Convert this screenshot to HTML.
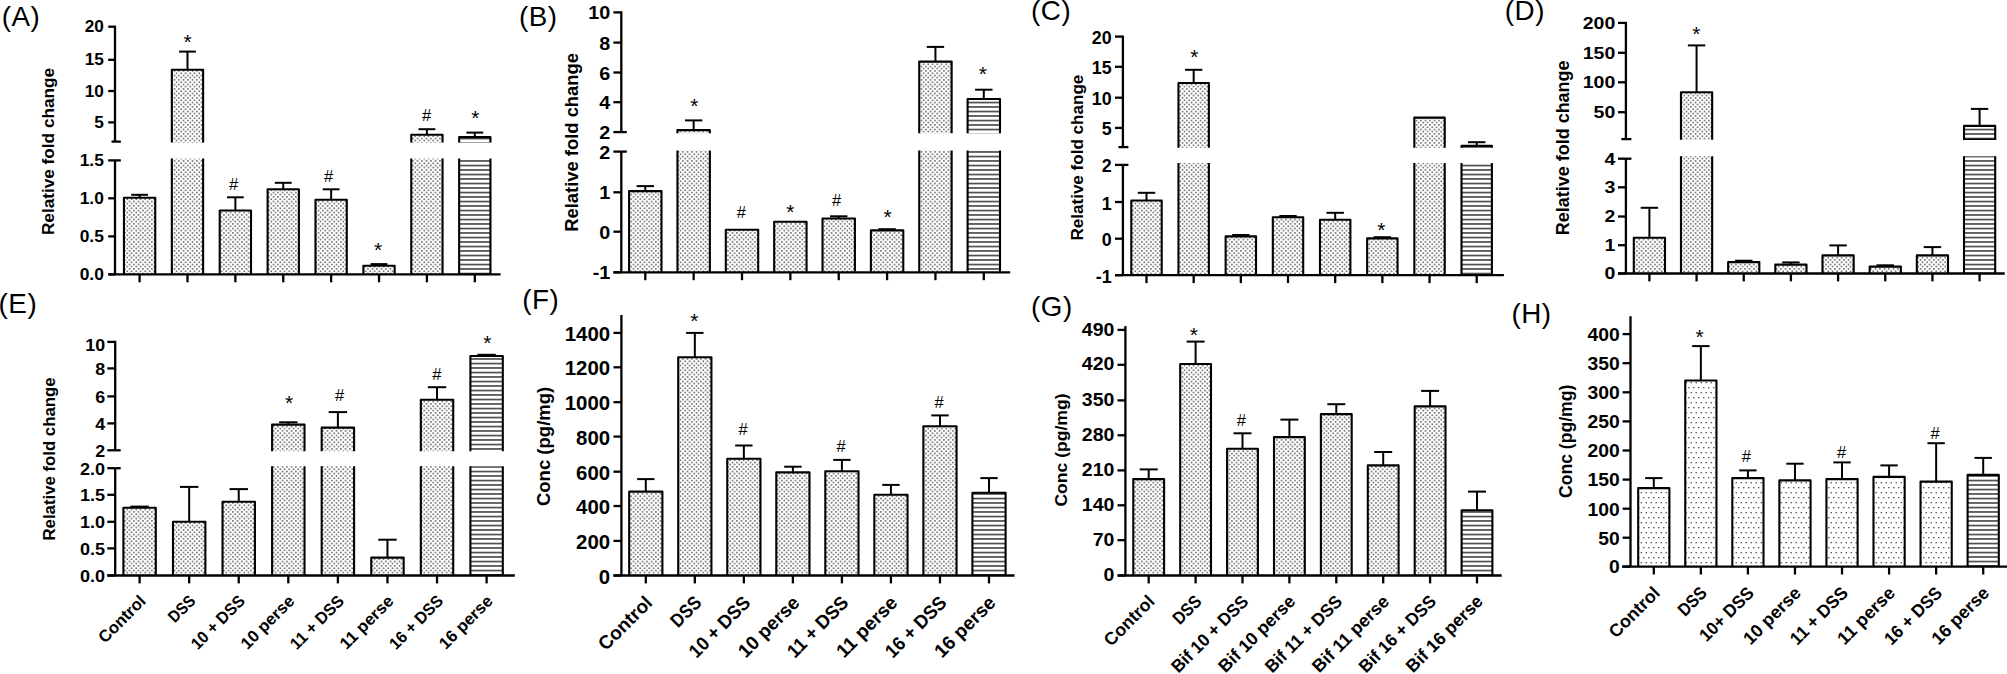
<!DOCTYPE html>
<html lang="en">
<head>
<meta charset="utf-8">
<title>Figure</title>
<style>
html,body{margin:0;padding:0;background:#fff;}
body{width:2007px;height:674px;overflow:hidden;}
svg{display:block;font-family:'Liberation Sans', sans-serif;}
text{fill:#000;}
</style>
</head>
<body>
<svg width="2007" height="674" viewBox="0 0 2007 674">
<defs>
<pattern id="dots" width="4.5" height="4.5" patternUnits="userSpaceOnUse">
<rect width="4.5" height="4.5" fill="#fff"/>
<rect x="0.5" y="0.5" width="1.4" height="1.4" fill="#3e3e3e"/>
<rect x="2.75" y="2.75" width="1.4" height="1.4" fill="#3e3e3e"/>
</pattern>
<pattern id="sparse" width="5" height="10" patternUnits="userSpaceOnUse">
<rect width="5" height="10" fill="#fff"/>
<rect x="0.6" y="2" width="1.3" height="1.3" fill="#4a4a4a"/>
<rect x="3.1" y="7" width="1.3" height="1.3" fill="#4a4a4a"/>
</pattern>
<pattern id="hlines" width="10" height="4.5" patternUnits="userSpaceOnUse">
<rect width="10" height="4.5" fill="#fff"/>
<rect x="0" y="2.8" width="10" height="1.4" fill="#2a2a2a"/>
</pattern>
</defs>
<g>
<line x1="139.6" y1="197.8" x2="139.6" y2="194.8" stroke="#000" stroke-width="2" stroke-linecap="butt"/>
<line x1="131.2" y1="194.8" x2="148" y2="194.8" stroke="#000" stroke-width="2" stroke-linecap="butt"/>
<rect x="123.95" y="197.8" width="31.3" height="76.6" fill="url(#dots)"/>
<path d="M123.95 274.4V197.8H155.25V274.4" fill="none" stroke="#000" stroke-width="2.1" stroke-linejoin="round"/>
<line x1="187.49" y1="69.8" x2="187.49" y2="51.6" stroke="#000" stroke-width="2" stroke-linecap="butt"/>
<line x1="179.09" y1="51.6" x2="195.89" y2="51.6" stroke="#000" stroke-width="2" stroke-linecap="butt"/>
<rect x="171.84" y="158.6" width="31.3" height="115.8" fill="url(#dots)"/>
<path d="M171.84 274.4V158.6M203.14 158.6V274.4" fill="none" stroke="#000" stroke-width="2.1"/>
<rect x="171.84" y="69.8" width="31.3" height="72.8" fill="url(#dots)"/>
<path d="M171.84 142.6V69.8H203.14V142.6" fill="none" stroke="#000" stroke-width="2.1" stroke-linejoin="round"/>
<line x1="235.37" y1="210.5" x2="235.37" y2="197.3" stroke="#000" stroke-width="2" stroke-linecap="butt"/>
<line x1="226.97" y1="197.3" x2="243.77" y2="197.3" stroke="#000" stroke-width="2" stroke-linecap="butt"/>
<rect x="219.72" y="210.5" width="31.3" height="63.9" fill="url(#dots)"/>
<path d="M219.72 274.4V210.5H251.02V274.4" fill="none" stroke="#000" stroke-width="2.1" stroke-linejoin="round"/>
<line x1="283.26" y1="189.3" x2="283.26" y2="182.8" stroke="#000" stroke-width="2" stroke-linecap="butt"/>
<line x1="274.86" y1="182.8" x2="291.66" y2="182.8" stroke="#000" stroke-width="2" stroke-linecap="butt"/>
<rect x="267.61" y="189.3" width="31.3" height="85.1" fill="url(#dots)"/>
<path d="M267.61 274.4V189.3H298.91V274.4" fill="none" stroke="#000" stroke-width="2.1" stroke-linejoin="round"/>
<line x1="331.14" y1="199.8" x2="331.14" y2="189.3" stroke="#000" stroke-width="2" stroke-linecap="butt"/>
<line x1="322.74" y1="189.3" x2="339.54" y2="189.3" stroke="#000" stroke-width="2" stroke-linecap="butt"/>
<rect x="315.49" y="199.8" width="31.3" height="74.6" fill="url(#dots)"/>
<path d="M315.49 274.4V199.8H346.79V274.4" fill="none" stroke="#000" stroke-width="2.1" stroke-linejoin="round"/>
<line x1="379.03" y1="265.8" x2="379.03" y2="264.1" stroke="#000" stroke-width="2" stroke-linecap="butt"/>
<line x1="370.63" y1="264.1" x2="387.43" y2="264.1" stroke="#000" stroke-width="2" stroke-linecap="butt"/>
<rect x="363.38" y="265.8" width="31.3" height="8.6" fill="url(#dots)"/>
<path d="M363.38 274.4V265.8H394.68V274.4" fill="none" stroke="#000" stroke-width="2.1" stroke-linejoin="round"/>
<line x1="426.91" y1="134.8" x2="426.91" y2="129.2" stroke="#000" stroke-width="2" stroke-linecap="butt"/>
<line x1="418.51" y1="129.2" x2="435.31" y2="129.2" stroke="#000" stroke-width="2" stroke-linecap="butt"/>
<rect x="411.26" y="158.6" width="31.3" height="115.8" fill="url(#dots)"/>
<path d="M411.26 274.4V158.6M442.56 158.6V274.4" fill="none" stroke="#000" stroke-width="2.1"/>
<rect x="411.26" y="134.8" width="31.3" height="7.8" fill="url(#dots)"/>
<path d="M411.26 142.6V134.8H442.56V142.6" fill="none" stroke="#000" stroke-width="2.1" stroke-linejoin="round"/>
<line x1="474.8" y1="137.1" x2="474.8" y2="132.6" stroke="#000" stroke-width="2" stroke-linecap="butt"/>
<line x1="466.4" y1="132.6" x2="483.2" y2="132.6" stroke="#000" stroke-width="2" stroke-linecap="butt"/>
<rect x="459.15" y="158.6" width="31.3" height="115.8" fill="url(#hlines)"/>
<path d="M459.15 274.4V158.6M490.45 158.6V274.4" fill="none" stroke="#000" stroke-width="2.1"/>
<rect x="459.15" y="137.1" width="31.3" height="5.5" fill="url(#hlines)"/>
<path d="M459.15 142.6V137.1H490.45V142.6" fill="none" stroke="#000" stroke-width="2.1" stroke-linejoin="round"/>
<line x1="115" y1="25.7" x2="115" y2="141.6" stroke="#000" stroke-width="2.3" stroke-linecap="butt"/>
<line x1="115" y1="160.4" x2="115" y2="274.4" stroke="#000" stroke-width="2.3" stroke-linecap="butt"/>
<line x1="108.2" y1="26.7" x2="115" y2="26.7" stroke="#000" stroke-width="2.3" stroke-linecap="butt"/>
<text x="103.9" y="32.2" font-size="17.28" font-weight="bold" text-anchor="end" textLength="19.16" lengthAdjust="spacingAndGlyphs">20</text>
<line x1="108.2" y1="59.8" x2="115" y2="59.8" stroke="#000" stroke-width="2.3" stroke-linecap="butt"/>
<text x="103.9" y="65.3" font-size="17.28" font-weight="bold" text-anchor="end" textLength="19.16" lengthAdjust="spacingAndGlyphs">15</text>
<line x1="108.2" y1="91" x2="115" y2="91" stroke="#000" stroke-width="2.3" stroke-linecap="butt"/>
<text x="103.9" y="96.5" font-size="17.28" font-weight="bold" text-anchor="end" textLength="19.16" lengthAdjust="spacingAndGlyphs">10</text>
<line x1="108.2" y1="122.4" x2="115" y2="122.4" stroke="#000" stroke-width="2.3" stroke-linecap="butt"/>
<text x="103.9" y="127.9" font-size="17.28" font-weight="bold" text-anchor="end" textLength="9.58" lengthAdjust="spacingAndGlyphs">5</text>
<line x1="108.2" y1="160.4" x2="115" y2="160.4" stroke="#000" stroke-width="2.3" stroke-linecap="butt"/>
<text x="103.9" y="165.9" font-size="17.28" font-weight="bold" text-anchor="end" textLength="24.21" lengthAdjust="spacingAndGlyphs">1.5</text>
<line x1="108.2" y1="198.3" x2="115" y2="198.3" stroke="#000" stroke-width="2.3" stroke-linecap="butt"/>
<text x="103.9" y="203.8" font-size="17.28" font-weight="bold" text-anchor="end" textLength="24.21" lengthAdjust="spacingAndGlyphs">1.0</text>
<line x1="108.2" y1="236.4" x2="115" y2="236.4" stroke="#000" stroke-width="2.3" stroke-linecap="butt"/>
<text x="103.9" y="241.9" font-size="17.28" font-weight="bold" text-anchor="end" textLength="24.21" lengthAdjust="spacingAndGlyphs">0.5</text>
<line x1="108.2" y1="274.4" x2="115" y2="274.4" stroke="#000" stroke-width="2.3" stroke-linecap="butt"/>
<text x="103.9" y="279.9" font-size="17.28" font-weight="bold" text-anchor="end" textLength="24.21" lengthAdjust="spacingAndGlyphs">0.0</text>
<line x1="111.5" y1="141.6" x2="120.8" y2="141.6" stroke="#000" stroke-width="2.3" stroke-linecap="butt"/>
<line x1="115" y1="160.4" x2="120.8" y2="160.4" stroke="#000" stroke-width="2.3" stroke-linecap="butt"/>
<line x1="108.5" y1="274.4" x2="500.6" y2="274.4" stroke="#000" stroke-width="2.3" stroke-linecap="butt"/>
<line x1="139.6" y1="274.4" x2="139.6" y2="282.3" stroke="#000" stroke-width="2.3" stroke-linecap="butt"/>
<line x1="187.49" y1="274.4" x2="187.49" y2="282.3" stroke="#000" stroke-width="2.3" stroke-linecap="butt"/>
<line x1="235.37" y1="274.4" x2="235.37" y2="282.3" stroke="#000" stroke-width="2.3" stroke-linecap="butt"/>
<line x1="283.26" y1="274.4" x2="283.26" y2="282.3" stroke="#000" stroke-width="2.3" stroke-linecap="butt"/>
<line x1="331.14" y1="274.4" x2="331.14" y2="282.3" stroke="#000" stroke-width="2.3" stroke-linecap="butt"/>
<line x1="379.03" y1="274.4" x2="379.03" y2="282.3" stroke="#000" stroke-width="2.3" stroke-linecap="butt"/>
<line x1="426.91" y1="274.4" x2="426.91" y2="282.3" stroke="#000" stroke-width="2.3" stroke-linecap="butt"/>
<line x1="474.8" y1="274.4" x2="474.8" y2="282.3" stroke="#000" stroke-width="2.3" stroke-linecap="butt"/>
<text x="54.3" y="151.5" font-size="17.3" font-weight="bold" text-anchor="middle" transform="rotate(-90 54.3 151.5)" textLength="167.2" lengthAdjust="spacingAndGlyphs">Relative fold change</text>
<text x="1.7" y="26.2" font-size="27.8" font-weight="normal" text-anchor="start" letter-spacing="0.5">(A)</text>
<text x="187.7" y="49.4" font-size="21" font-weight="normal" text-anchor="middle" fill="#111">*</text>
<text x="426.7" y="121.3" font-size="16.5" font-weight="normal" text-anchor="middle" fill="#222">#</text>
<text x="475.3" y="125.2" font-size="21" font-weight="normal" text-anchor="middle" fill="#111">*</text>
<text x="233.5" y="190.2" font-size="16.5" font-weight="normal" text-anchor="middle" fill="#222">#</text>
<text x="328.5" y="182.3" font-size="16.5" font-weight="normal" text-anchor="middle" fill="#222">#</text>
<text x="378.1" y="257.1" font-size="21" font-weight="normal" text-anchor="middle" fill="#111">*</text>
</g>
<g>
<line x1="645.3" y1="191.1" x2="645.3" y2="186.1" stroke="#000" stroke-width="2" stroke-linecap="butt"/>
<line x1="636.6" y1="186.1" x2="654" y2="186.1" stroke="#000" stroke-width="2" stroke-linecap="butt"/>
<rect x="629.1" y="191.1" width="32.4" height="81.2" fill="url(#dots)"/>
<path d="M629.1 272.3V191.1H661.5V272.3" fill="none" stroke="#000" stroke-width="2.1" stroke-linejoin="round"/>
<line x1="693.66" y1="130.1" x2="693.66" y2="120.4" stroke="#000" stroke-width="2" stroke-linecap="butt"/>
<line x1="684.96" y1="120.4" x2="702.36" y2="120.4" stroke="#000" stroke-width="2" stroke-linecap="butt"/>
<rect x="677.46" y="150.6" width="32.4" height="121.7" fill="url(#dots)"/>
<path d="M677.46 272.3V150.6M709.86 150.6V272.3" fill="none" stroke="#000" stroke-width="2.1"/>
<rect x="677.46" y="130.1" width="32.4" height="3.2" fill="url(#dots)"/>
<path d="M677.46 133.3V130.1H709.86V133.3" fill="none" stroke="#000" stroke-width="2.1" stroke-linejoin="round"/>
<rect x="725.81" y="229.7" width="32.4" height="42.6" fill="url(#dots)"/>
<path d="M725.81 272.3V229.7H758.21V272.3" fill="none" stroke="#000" stroke-width="2.1" stroke-linejoin="round"/>
<rect x="774.17" y="221.7" width="32.4" height="50.6" fill="url(#dots)"/>
<path d="M774.17 272.3V221.7H806.57V272.3" fill="none" stroke="#000" stroke-width="2.1" stroke-linejoin="round"/>
<line x1="838.73" y1="218.5" x2="838.73" y2="216.3" stroke="#000" stroke-width="2" stroke-linecap="butt"/>
<line x1="830.03" y1="216.3" x2="847.43" y2="216.3" stroke="#000" stroke-width="2" stroke-linecap="butt"/>
<rect x="822.53" y="218.5" width="32.4" height="53.8" fill="url(#dots)"/>
<path d="M822.53 272.3V218.5H854.93V272.3" fill="none" stroke="#000" stroke-width="2.1" stroke-linejoin="round"/>
<line x1="887.09" y1="230.4" x2="887.09" y2="229.2" stroke="#000" stroke-width="2" stroke-linecap="butt"/>
<line x1="878.39" y1="229.2" x2="895.79" y2="229.2" stroke="#000" stroke-width="2" stroke-linecap="butt"/>
<rect x="870.89" y="230.4" width="32.4" height="41.9" fill="url(#dots)"/>
<path d="M870.89 272.3V230.4H903.29V272.3" fill="none" stroke="#000" stroke-width="2.1" stroke-linejoin="round"/>
<line x1="935.44" y1="61.6" x2="935.44" y2="46.9" stroke="#000" stroke-width="2" stroke-linecap="butt"/>
<line x1="926.74" y1="46.9" x2="944.14" y2="46.9" stroke="#000" stroke-width="2" stroke-linecap="butt"/>
<rect x="919.24" y="150.6" width="32.4" height="121.7" fill="url(#dots)"/>
<path d="M919.24 272.3V150.6M951.64 150.6V272.3" fill="none" stroke="#000" stroke-width="2.1"/>
<rect x="919.24" y="61.6" width="32.4" height="71.7" fill="url(#dots)"/>
<path d="M919.24 133.3V61.6H951.64V133.3" fill="none" stroke="#000" stroke-width="2.1" stroke-linejoin="round"/>
<line x1="983.8" y1="99" x2="983.8" y2="89.7" stroke="#000" stroke-width="2" stroke-linecap="butt"/>
<line x1="975.1" y1="89.7" x2="992.5" y2="89.7" stroke="#000" stroke-width="2" stroke-linecap="butt"/>
<rect x="967.6" y="150.6" width="32.4" height="121.7" fill="url(#hlines)"/>
<path d="M967.6 272.3V150.6M1000 150.6V272.3" fill="none" stroke="#000" stroke-width="2.1"/>
<rect x="967.6" y="99" width="32.4" height="34.3" fill="url(#hlines)"/>
<path d="M967.6 133.3V99H1000V133.3" fill="none" stroke="#000" stroke-width="2.1" stroke-linejoin="round"/>
<line x1="621.3" y1="11.3" x2="621.3" y2="132.1" stroke="#000" stroke-width="2.3" stroke-linecap="butt"/>
<line x1="621.3" y1="151.6" x2="621.3" y2="272.3" stroke="#000" stroke-width="2.3" stroke-linecap="butt"/>
<line x1="613.4" y1="12.4" x2="621.3" y2="12.4" stroke="#000" stroke-width="2.3" stroke-linecap="butt"/>
<text x="610.3" y="19.4" font-size="18.54" font-weight="bold" text-anchor="end" textLength="22" lengthAdjust="spacingAndGlyphs">10</text>
<line x1="613.4" y1="42.6" x2="621.3" y2="42.6" stroke="#000" stroke-width="2.3" stroke-linecap="butt"/>
<text x="610.3" y="49.6" font-size="18.54" font-weight="bold" text-anchor="end" textLength="11" lengthAdjust="spacingAndGlyphs">8</text>
<line x1="613.4" y1="72.5" x2="621.3" y2="72.5" stroke="#000" stroke-width="2.3" stroke-linecap="butt"/>
<text x="610.3" y="79.5" font-size="18.54" font-weight="bold" text-anchor="end" textLength="11" lengthAdjust="spacingAndGlyphs">6</text>
<line x1="613.4" y1="102.2" x2="621.3" y2="102.2" stroke="#000" stroke-width="2.3" stroke-linecap="butt"/>
<text x="610.3" y="109.2" font-size="18.54" font-weight="bold" text-anchor="end" textLength="11" lengthAdjust="spacingAndGlyphs">4</text>
<line x1="613.4" y1="132.1" x2="621.3" y2="132.1" stroke="#000" stroke-width="2.3" stroke-linecap="butt"/>
<text x="610.3" y="139.1" font-size="18.54" font-weight="bold" text-anchor="end" textLength="11" lengthAdjust="spacingAndGlyphs">2</text>
<line x1="613.4" y1="151.6" x2="621.3" y2="151.6" stroke="#000" stroke-width="2.3" stroke-linecap="butt"/>
<text x="610.3" y="158.6" font-size="18.54" font-weight="bold" text-anchor="end" textLength="11" lengthAdjust="spacingAndGlyphs">2</text>
<line x1="613.4" y1="192.3" x2="621.3" y2="192.3" stroke="#000" stroke-width="2.3" stroke-linecap="butt"/>
<text x="610.3" y="199.3" font-size="18.54" font-weight="bold" text-anchor="end" textLength="11" lengthAdjust="spacingAndGlyphs">1</text>
<line x1="613.4" y1="231.7" x2="621.3" y2="231.7" stroke="#000" stroke-width="2.3" stroke-linecap="butt"/>
<text x="610.3" y="238.7" font-size="18.54" font-weight="bold" text-anchor="end" textLength="11" lengthAdjust="spacingAndGlyphs">0</text>
<line x1="613.4" y1="272.3" x2="621.3" y2="272.3" stroke="#000" stroke-width="2.3" stroke-linecap="butt"/>
<text x="610.3" y="279.3" font-size="18.54" font-weight="bold" text-anchor="end" textLength="17.64" lengthAdjust="spacingAndGlyphs">-1</text>
<line x1="621.3" y1="132.1" x2="626.8" y2="132.1" stroke="#000" stroke-width="2.3" stroke-linecap="butt"/>
<line x1="621.3" y1="151.6" x2="626.8" y2="151.6" stroke="#000" stroke-width="2.3" stroke-linecap="butt"/>
<line x1="613.4" y1="272.3" x2="1010.2" y2="272.3" stroke="#000" stroke-width="2.3" stroke-linecap="butt"/>
<line x1="645.3" y1="272.3" x2="645.3" y2="280.2" stroke="#000" stroke-width="2.3" stroke-linecap="butt"/>
<line x1="693.66" y1="272.3" x2="693.66" y2="280.2" stroke="#000" stroke-width="2.3" stroke-linecap="butt"/>
<line x1="742.01" y1="272.3" x2="742.01" y2="280.2" stroke="#000" stroke-width="2.3" stroke-linecap="butt"/>
<line x1="790.37" y1="272.3" x2="790.37" y2="280.2" stroke="#000" stroke-width="2.3" stroke-linecap="butt"/>
<line x1="838.73" y1="272.3" x2="838.73" y2="280.2" stroke="#000" stroke-width="2.3" stroke-linecap="butt"/>
<line x1="887.09" y1="272.3" x2="887.09" y2="280.2" stroke="#000" stroke-width="2.3" stroke-linecap="butt"/>
<line x1="935.44" y1="272.3" x2="935.44" y2="280.2" stroke="#000" stroke-width="2.3" stroke-linecap="butt"/>
<line x1="983.8" y1="272.3" x2="983.8" y2="280.2" stroke="#000" stroke-width="2.3" stroke-linecap="butt"/>
<text x="578" y="142.4" font-size="18.51" font-weight="bold" text-anchor="middle" transform="rotate(-90 578 142.4)" textLength="178.9" lengthAdjust="spacingAndGlyphs">Relative fold change</text>
<text x="518.9" y="26.2" font-size="27.8" font-weight="normal" text-anchor="start" letter-spacing="0.5">(B)</text>
<text x="694.4" y="112.9" font-size="21" font-weight="normal" text-anchor="middle" fill="#111">*</text>
<text x="982.8" y="80.5" font-size="21" font-weight="normal" text-anchor="middle" fill="#111">*</text>
<text x="741.3" y="217.7" font-size="16.5" font-weight="normal" text-anchor="middle" fill="#222">#</text>
<text x="790.4" y="218.5" font-size="21" font-weight="normal" text-anchor="middle" fill="#111">*</text>
<text x="836.5" y="205.9" font-size="16.5" font-weight="normal" text-anchor="middle" fill="#222">#</text>
<text x="887.6" y="224" font-size="21" font-weight="normal" text-anchor="middle" fill="#111">*</text>
</g>
<g>
<line x1="1146.5" y1="200.5" x2="1146.5" y2="192.8" stroke="#000" stroke-width="2" stroke-linecap="butt"/>
<line x1="1137.8" y1="192.8" x2="1155.2" y2="192.8" stroke="#000" stroke-width="2" stroke-linecap="butt"/>
<rect x="1131.3" y="200.5" width="30.4" height="74.7" fill="url(#dots)"/>
<path d="M1131.3 275.2V200.5H1161.7V275.2" fill="none" stroke="#000" stroke-width="2.1" stroke-linejoin="round"/>
<line x1="1193.67" y1="83" x2="1193.67" y2="69.8" stroke="#000" stroke-width="2" stroke-linecap="butt"/>
<line x1="1184.97" y1="69.8" x2="1202.37" y2="69.8" stroke="#000" stroke-width="2" stroke-linecap="butt"/>
<rect x="1178.47" y="162.9" width="30.4" height="112.3" fill="url(#dots)"/>
<path d="M1178.47 275.2V162.9M1208.87 162.9V275.2" fill="none" stroke="#000" stroke-width="2.1"/>
<rect x="1178.47" y="83" width="30.4" height="64.8" fill="url(#dots)"/>
<path d="M1178.47 147.8V83H1208.87V147.8" fill="none" stroke="#000" stroke-width="2.1" stroke-linejoin="round"/>
<line x1="1240.84" y1="236.4" x2="1240.84" y2="235" stroke="#000" stroke-width="2" stroke-linecap="butt"/>
<line x1="1232.14" y1="235" x2="1249.54" y2="235" stroke="#000" stroke-width="2" stroke-linecap="butt"/>
<rect x="1225.64" y="236.4" width="30.4" height="38.8" fill="url(#dots)"/>
<path d="M1225.64 275.2V236.4H1256.04V275.2" fill="none" stroke="#000" stroke-width="2.1" stroke-linejoin="round"/>
<line x1="1288.01" y1="217.2" x2="1288.01" y2="216" stroke="#000" stroke-width="2" stroke-linecap="butt"/>
<line x1="1279.31" y1="216" x2="1296.71" y2="216" stroke="#000" stroke-width="2" stroke-linecap="butt"/>
<rect x="1272.81" y="217.2" width="30.4" height="58" fill="url(#dots)"/>
<path d="M1272.81 275.2V217.2H1303.21V275.2" fill="none" stroke="#000" stroke-width="2.1" stroke-linejoin="round"/>
<line x1="1335.19" y1="219.7" x2="1335.19" y2="212.8" stroke="#000" stroke-width="2" stroke-linecap="butt"/>
<line x1="1326.49" y1="212.8" x2="1343.89" y2="212.8" stroke="#000" stroke-width="2" stroke-linecap="butt"/>
<rect x="1319.99" y="219.7" width="30.4" height="55.5" fill="url(#dots)"/>
<path d="M1319.99 275.2V219.7H1350.39V275.2" fill="none" stroke="#000" stroke-width="2.1" stroke-linejoin="round"/>
<line x1="1382.36" y1="238.4" x2="1382.36" y2="237.2" stroke="#000" stroke-width="2" stroke-linecap="butt"/>
<line x1="1373.66" y1="237.2" x2="1391.06" y2="237.2" stroke="#000" stroke-width="2" stroke-linecap="butt"/>
<rect x="1367.16" y="238.4" width="30.4" height="36.8" fill="url(#dots)"/>
<path d="M1367.16 275.2V238.4H1397.56V275.2" fill="none" stroke="#000" stroke-width="2.1" stroke-linejoin="round"/>
<rect x="1414.33" y="162.9" width="30.4" height="112.3" fill="url(#dots)"/>
<path d="M1414.33 275.2V162.9M1444.73 162.9V275.2" fill="none" stroke="#000" stroke-width="2.1"/>
<rect x="1414.33" y="117.6" width="30.4" height="30.2" fill="url(#dots)"/>
<path d="M1414.33 147.8V117.6H1444.73V147.8" fill="none" stroke="#000" stroke-width="2.1" stroke-linejoin="round"/>
<line x1="1476.7" y1="145.9" x2="1476.7" y2="142.2" stroke="#000" stroke-width="2" stroke-linecap="butt"/>
<line x1="1468" y1="142.2" x2="1485.4" y2="142.2" stroke="#000" stroke-width="2" stroke-linecap="butt"/>
<rect x="1461.5" y="162.9" width="30.4" height="112.3" fill="url(#hlines)"/>
<path d="M1461.5 275.2V162.9M1491.9 162.9V275.2" fill="none" stroke="#000" stroke-width="2.1"/>
<rect x="1461.5" y="145.9" width="30.4" height="1.9" fill="url(#hlines)"/>
<path d="M1461.5 147.8V145.9H1491.9V147.8" fill="none" stroke="#000" stroke-width="2.1" stroke-linejoin="round"/>
<line x1="1122.9" y1="35.6" x2="1122.9" y2="147.1" stroke="#000" stroke-width="2.3" stroke-linecap="butt"/>
<line x1="1122.9" y1="164.9" x2="1122.9" y2="275.2" stroke="#000" stroke-width="2.3" stroke-linecap="butt"/>
<line x1="1115" y1="36.6" x2="1122.9" y2="36.6" stroke="#000" stroke-width="2.3" stroke-linecap="butt"/>
<text x="1111.7" y="44.1" font-size="17.7" font-weight="bold" text-anchor="end" textLength="19.87" lengthAdjust="spacingAndGlyphs">20</text>
<line x1="1115" y1="66.8" x2="1122.9" y2="66.8" stroke="#000" stroke-width="2.3" stroke-linecap="butt"/>
<text x="1111.7" y="74.3" font-size="17.7" font-weight="bold" text-anchor="end" textLength="19.87" lengthAdjust="spacingAndGlyphs">15</text>
<line x1="1115" y1="97.7" x2="1122.9" y2="97.7" stroke="#000" stroke-width="2.3" stroke-linecap="butt"/>
<text x="1111.7" y="105.2" font-size="17.7" font-weight="bold" text-anchor="end" textLength="19.87" lengthAdjust="spacingAndGlyphs">10</text>
<line x1="1115" y1="127.9" x2="1122.9" y2="127.9" stroke="#000" stroke-width="2.3" stroke-linecap="butt"/>
<text x="1111.7" y="135.4" font-size="17.7" font-weight="bold" text-anchor="end" textLength="9.93" lengthAdjust="spacingAndGlyphs">5</text>
<line x1="1115" y1="164.9" x2="1122.9" y2="164.9" stroke="#000" stroke-width="2.3" stroke-linecap="butt"/>
<text x="1111.7" y="172.4" font-size="17.7" font-weight="bold" text-anchor="end" textLength="9.93" lengthAdjust="spacingAndGlyphs">2</text>
<line x1="1115" y1="202" x2="1122.9" y2="202" stroke="#000" stroke-width="2.3" stroke-linecap="butt"/>
<text x="1111.7" y="209.5" font-size="17.7" font-weight="bold" text-anchor="end" textLength="9.93" lengthAdjust="spacingAndGlyphs">1</text>
<line x1="1115" y1="238.7" x2="1122.9" y2="238.7" stroke="#000" stroke-width="2.3" stroke-linecap="butt"/>
<text x="1111.7" y="246.2" font-size="17.7" font-weight="bold" text-anchor="end" textLength="9.93" lengthAdjust="spacingAndGlyphs">0</text>
<line x1="1115" y1="275.2" x2="1122.9" y2="275.2" stroke="#000" stroke-width="2.3" stroke-linecap="butt"/>
<text x="1111.7" y="282.7" font-size="17.7" font-weight="bold" text-anchor="end" textLength="15.93" lengthAdjust="spacingAndGlyphs">-1</text>
<line x1="1118.4" y1="147.1" x2="1128.4" y2="147.1" stroke="#000" stroke-width="2.3" stroke-linecap="butt"/>
<line x1="1122.9" y1="164.9" x2="1128.4" y2="164.9" stroke="#000" stroke-width="2.3" stroke-linecap="butt"/>
<line x1="1115" y1="275.2" x2="1503.9" y2="275.2" stroke="#000" stroke-width="2.3" stroke-linecap="butt"/>
<line x1="1146.5" y1="275.2" x2="1146.5" y2="283.1" stroke="#000" stroke-width="2.3" stroke-linecap="butt"/>
<line x1="1193.67" y1="275.2" x2="1193.67" y2="283.1" stroke="#000" stroke-width="2.3" stroke-linecap="butt"/>
<line x1="1240.84" y1="275.2" x2="1240.84" y2="283.1" stroke="#000" stroke-width="2.3" stroke-linecap="butt"/>
<line x1="1288.01" y1="275.2" x2="1288.01" y2="283.1" stroke="#000" stroke-width="2.3" stroke-linecap="butt"/>
<line x1="1335.19" y1="275.2" x2="1335.19" y2="283.1" stroke="#000" stroke-width="2.3" stroke-linecap="butt"/>
<line x1="1382.36" y1="275.2" x2="1382.36" y2="283.1" stroke="#000" stroke-width="2.3" stroke-linecap="butt"/>
<line x1="1429.53" y1="275.2" x2="1429.53" y2="283.1" stroke="#000" stroke-width="2.3" stroke-linecap="butt"/>
<line x1="1476.7" y1="275.2" x2="1476.7" y2="283.1" stroke="#000" stroke-width="2.3" stroke-linecap="butt"/>
<text x="1083.5" y="157.6" font-size="17.17" font-weight="bold" text-anchor="middle" transform="rotate(-90 1083.5 157.6)" textLength="165.94" lengthAdjust="spacingAndGlyphs">Relative fold change</text>
<text x="1031.1" y="19.7" font-size="27.8" font-weight="normal" text-anchor="start" letter-spacing="0.5">(C)</text>
<text x="1194.4" y="64.3" font-size="21" font-weight="normal" text-anchor="middle" fill="#111">*</text>
<text x="1381.4" y="236.7" font-size="21" font-weight="normal" text-anchor="middle" fill="#111">*</text>
</g>
<g>
<line x1="1649.4" y1="237.7" x2="1649.4" y2="207.8" stroke="#000" stroke-width="2" stroke-linecap="butt"/>
<line x1="1640.7" y1="207.8" x2="1658.1" y2="207.8" stroke="#000" stroke-width="2" stroke-linecap="butt"/>
<rect x="1633.8" y="237.7" width="31.2" height="35.8" fill="url(#dots)"/>
<path d="M1633.8 273.5V237.7H1665V273.5" fill="none" stroke="#000" stroke-width="2.1" stroke-linejoin="round"/>
<line x1="1696.57" y1="92.2" x2="1696.57" y2="45.4" stroke="#000" stroke-width="2" stroke-linecap="butt"/>
<line x1="1687.87" y1="45.4" x2="1705.27" y2="45.4" stroke="#000" stroke-width="2" stroke-linecap="butt"/>
<rect x="1680.97" y="156.2" width="31.2" height="117.3" fill="url(#dots)"/>
<path d="M1680.97 273.5V156.2M1712.17 156.2V273.5" fill="none" stroke="#000" stroke-width="2.1"/>
<rect x="1680.97" y="92.2" width="31.2" height="47.6" fill="url(#dots)"/>
<path d="M1680.97 139.8V92.2H1712.17V139.8" fill="none" stroke="#000" stroke-width="2.1" stroke-linejoin="round"/>
<line x1="1743.74" y1="262.1" x2="1743.74" y2="260.7" stroke="#000" stroke-width="2" stroke-linecap="butt"/>
<line x1="1735.04" y1="260.7" x2="1752.44" y2="260.7" stroke="#000" stroke-width="2" stroke-linecap="butt"/>
<rect x="1728.14" y="262.1" width="31.2" height="11.4" fill="url(#dots)"/>
<path d="M1728.14 273.5V262.1H1759.34V273.5" fill="none" stroke="#000" stroke-width="2.1" stroke-linejoin="round"/>
<line x1="1790.91" y1="264.6" x2="1790.91" y2="262.4" stroke="#000" stroke-width="2" stroke-linecap="butt"/>
<line x1="1782.21" y1="262.4" x2="1799.61" y2="262.4" stroke="#000" stroke-width="2" stroke-linecap="butt"/>
<rect x="1775.31" y="264.6" width="31.2" height="8.9" fill="url(#dots)"/>
<path d="M1775.31 273.5V264.6H1806.51V273.5" fill="none" stroke="#000" stroke-width="2.1" stroke-linejoin="round"/>
<line x1="1838.09" y1="255.4" x2="1838.09" y2="245.4" stroke="#000" stroke-width="2" stroke-linecap="butt"/>
<line x1="1829.39" y1="245.4" x2="1846.79" y2="245.4" stroke="#000" stroke-width="2" stroke-linecap="butt"/>
<rect x="1822.49" y="255.4" width="31.2" height="18.1" fill="url(#dots)"/>
<path d="M1822.49 273.5V255.4H1853.69V273.5" fill="none" stroke="#000" stroke-width="2.1" stroke-linejoin="round"/>
<line x1="1885.26" y1="266.6" x2="1885.26" y2="265.3" stroke="#000" stroke-width="2" stroke-linecap="butt"/>
<line x1="1876.56" y1="265.3" x2="1893.96" y2="265.3" stroke="#000" stroke-width="2" stroke-linecap="butt"/>
<rect x="1869.66" y="266.6" width="31.2" height="6.9" fill="url(#dots)"/>
<path d="M1869.66 273.5V266.6H1900.86V273.5" fill="none" stroke="#000" stroke-width="2.1" stroke-linejoin="round"/>
<line x1="1932.43" y1="255.4" x2="1932.43" y2="247.1" stroke="#000" stroke-width="2" stroke-linecap="butt"/>
<line x1="1923.73" y1="247.1" x2="1941.13" y2="247.1" stroke="#000" stroke-width="2" stroke-linecap="butt"/>
<rect x="1916.83" y="255.4" width="31.2" height="18.1" fill="url(#dots)"/>
<path d="M1916.83 273.5V255.4H1948.03V273.5" fill="none" stroke="#000" stroke-width="2.1" stroke-linejoin="round"/>
<line x1="1979.6" y1="125.9" x2="1979.6" y2="108.9" stroke="#000" stroke-width="2" stroke-linecap="butt"/>
<line x1="1970.9" y1="108.9" x2="1988.3" y2="108.9" stroke="#000" stroke-width="2" stroke-linecap="butt"/>
<rect x="1964" y="156.2" width="31.2" height="117.3" fill="url(#hlines)"/>
<path d="M1964 273.5V156.2M1995.2 156.2V273.5" fill="none" stroke="#000" stroke-width="2.1"/>
<rect x="1964" y="125.9" width="31.2" height="13.9" fill="url(#hlines)"/>
<path d="M1964 139.8V125.9H1995.2V139.8" fill="none" stroke="#000" stroke-width="2.1" stroke-linejoin="round"/>
<line x1="1963" y1="139.2" x2="1996.2" y2="139.2" stroke="#000" stroke-width="1.6" stroke-linecap="butt"/>
<line x1="1625.9" y1="21.9" x2="1625.9" y2="139.1" stroke="#000" stroke-width="2.3" stroke-linecap="butt"/>
<line x1="1625.9" y1="158.7" x2="1625.9" y2="273.5" stroke="#000" stroke-width="2.3" stroke-linecap="butt"/>
<line x1="1618" y1="22.9" x2="1625.9" y2="22.9" stroke="#000" stroke-width="2.3" stroke-linecap="butt"/>
<text x="1615.3" y="28.7" font-size="17.28" font-weight="bold" text-anchor="end" textLength="32.54" lengthAdjust="spacingAndGlyphs">200</text>
<line x1="1618" y1="52.8" x2="1625.9" y2="52.8" stroke="#000" stroke-width="2.3" stroke-linecap="butt"/>
<text x="1615.3" y="58.6" font-size="17.28" font-weight="bold" text-anchor="end" textLength="32.54" lengthAdjust="spacingAndGlyphs">150</text>
<line x1="1618" y1="82.3" x2="1625.9" y2="82.3" stroke="#000" stroke-width="2.3" stroke-linecap="butt"/>
<text x="1615.3" y="88.1" font-size="17.28" font-weight="bold" text-anchor="end" textLength="32.54" lengthAdjust="spacingAndGlyphs">100</text>
<line x1="1618" y1="112.2" x2="1625.9" y2="112.2" stroke="#000" stroke-width="2.3" stroke-linecap="butt"/>
<text x="1615.3" y="118" font-size="17.28" font-weight="bold" text-anchor="end" textLength="21.69" lengthAdjust="spacingAndGlyphs">50</text>
<line x1="1618" y1="158.7" x2="1625.9" y2="158.7" stroke="#000" stroke-width="2.3" stroke-linecap="butt"/>
<text x="1615.3" y="164.5" font-size="17.28" font-weight="bold" text-anchor="end" textLength="10.85" lengthAdjust="spacingAndGlyphs">4</text>
<line x1="1618" y1="187.3" x2="1625.9" y2="187.3" stroke="#000" stroke-width="2.3" stroke-linecap="butt"/>
<text x="1615.3" y="193.1" font-size="17.28" font-weight="bold" text-anchor="end" textLength="10.85" lengthAdjust="spacingAndGlyphs">3</text>
<line x1="1618" y1="216.5" x2="1625.9" y2="216.5" stroke="#000" stroke-width="2.3" stroke-linecap="butt"/>
<text x="1615.3" y="222.3" font-size="17.28" font-weight="bold" text-anchor="end" textLength="10.85" lengthAdjust="spacingAndGlyphs">2</text>
<line x1="1618" y1="245.2" x2="1625.9" y2="245.2" stroke="#000" stroke-width="2.3" stroke-linecap="butt"/>
<text x="1615.3" y="251" font-size="17.28" font-weight="bold" text-anchor="end" textLength="10.85" lengthAdjust="spacingAndGlyphs">1</text>
<line x1="1618" y1="273.5" x2="1625.9" y2="273.5" stroke="#000" stroke-width="2.3" stroke-linecap="butt"/>
<text x="1615.3" y="279.3" font-size="17.28" font-weight="bold" text-anchor="end" textLength="10.85" lengthAdjust="spacingAndGlyphs">0</text>
<line x1="1621.4" y1="139.1" x2="1631.4" y2="139.1" stroke="#000" stroke-width="2.3" stroke-linecap="butt"/>
<line x1="1625.9" y1="158.7" x2="1631.4" y2="158.7" stroke="#000" stroke-width="2.3" stroke-linecap="butt"/>
<line x1="1618" y1="273.5" x2="2004.7" y2="273.5" stroke="#000" stroke-width="2.3" stroke-linecap="butt"/>
<line x1="1649.4" y1="273.5" x2="1649.4" y2="281.4" stroke="#000" stroke-width="2.3" stroke-linecap="butt"/>
<line x1="1696.57" y1="273.5" x2="1696.57" y2="281.4" stroke="#000" stroke-width="2.3" stroke-linecap="butt"/>
<line x1="1743.74" y1="273.5" x2="1743.74" y2="281.4" stroke="#000" stroke-width="2.3" stroke-linecap="butt"/>
<line x1="1790.91" y1="273.5" x2="1790.91" y2="281.4" stroke="#000" stroke-width="2.3" stroke-linecap="butt"/>
<line x1="1838.09" y1="273.5" x2="1838.09" y2="281.4" stroke="#000" stroke-width="2.3" stroke-linecap="butt"/>
<line x1="1885.26" y1="273.5" x2="1885.26" y2="281.4" stroke="#000" stroke-width="2.3" stroke-linecap="butt"/>
<line x1="1932.43" y1="273.5" x2="1932.43" y2="281.4" stroke="#000" stroke-width="2.3" stroke-linecap="butt"/>
<line x1="1979.6" y1="273.5" x2="1979.6" y2="281.4" stroke="#000" stroke-width="2.3" stroke-linecap="butt"/>
<text x="1569.1" y="147.8" font-size="18.08" font-weight="bold" text-anchor="middle" transform="rotate(-90 1569.1 147.8)" textLength="174.72" lengthAdjust="spacingAndGlyphs">Relative fold change</text>
<text x="1504.8" y="19.9" font-size="27.8" font-weight="normal" text-anchor="start" letter-spacing="0.5">(D)</text>
<text x="1696.4" y="41.2" font-size="21" font-weight="normal" text-anchor="middle" fill="#111">*</text>
</g>
<g>
<line x1="139.6" y1="507.8" x2="139.6" y2="506.6" stroke="#000" stroke-width="2" stroke-linecap="butt"/>
<line x1="130.4" y1="506.6" x2="148.8" y2="506.6" stroke="#000" stroke-width="2" stroke-linecap="butt"/>
<rect x="123.4" y="507.8" width="32.4" height="67.7" fill="url(#dots)"/>
<path d="M123.4 575.5V507.8H155.8V575.5" fill="none" stroke="#000" stroke-width="2.1" stroke-linejoin="round"/>
<line x1="189.17" y1="521.8" x2="189.17" y2="486.9" stroke="#000" stroke-width="2" stroke-linecap="butt"/>
<line x1="179.97" y1="486.9" x2="198.37" y2="486.9" stroke="#000" stroke-width="2" stroke-linecap="butt"/>
<rect x="172.97" y="521.8" width="32.4" height="53.7" fill="url(#dots)"/>
<path d="M172.97 575.5V521.8H205.37V575.5" fill="none" stroke="#000" stroke-width="2.1" stroke-linejoin="round"/>
<line x1="238.74" y1="501.8" x2="238.74" y2="489.1" stroke="#000" stroke-width="2" stroke-linecap="butt"/>
<line x1="229.54" y1="489.1" x2="247.94" y2="489.1" stroke="#000" stroke-width="2" stroke-linecap="butt"/>
<rect x="222.54" y="501.8" width="32.4" height="73.7" fill="url(#dots)"/>
<path d="M222.54 575.5V501.8H254.94V575.5" fill="none" stroke="#000" stroke-width="2.1" stroke-linejoin="round"/>
<line x1="288.31" y1="424.6" x2="288.31" y2="422.3" stroke="#000" stroke-width="2" stroke-linecap="butt"/>
<line x1="279.11" y1="422.3" x2="297.51" y2="422.3" stroke="#000" stroke-width="2" stroke-linecap="butt"/>
<rect x="272.11" y="466.2" width="32.4" height="109.3" fill="url(#dots)"/>
<path d="M272.11 575.5V466.2M304.51 466.2V575.5" fill="none" stroke="#000" stroke-width="2.1"/>
<rect x="272.11" y="424.6" width="32.4" height="26.6" fill="url(#dots)"/>
<path d="M272.11 451.2V424.6H304.51V451.2" fill="none" stroke="#000" stroke-width="2.1" stroke-linejoin="round"/>
<line x1="337.89" y1="427.6" x2="337.89" y2="412.1" stroke="#000" stroke-width="2" stroke-linecap="butt"/>
<line x1="328.69" y1="412.1" x2="347.09" y2="412.1" stroke="#000" stroke-width="2" stroke-linecap="butt"/>
<rect x="321.69" y="466.2" width="32.4" height="109.3" fill="url(#dots)"/>
<path d="M321.69 575.5V466.2M354.09 466.2V575.5" fill="none" stroke="#000" stroke-width="2.1"/>
<rect x="321.69" y="427.6" width="32.4" height="23.6" fill="url(#dots)"/>
<path d="M321.69 451.2V427.6H354.09V451.2" fill="none" stroke="#000" stroke-width="2.1" stroke-linejoin="round"/>
<line x1="387.46" y1="557.6" x2="387.46" y2="539.7" stroke="#000" stroke-width="2" stroke-linecap="butt"/>
<line x1="378.26" y1="539.7" x2="396.66" y2="539.7" stroke="#000" stroke-width="2" stroke-linecap="butt"/>
<rect x="371.26" y="557.6" width="32.4" height="17.9" fill="url(#dots)"/>
<path d="M371.26 575.5V557.6H403.66V575.5" fill="none" stroke="#000" stroke-width="2.1" stroke-linejoin="round"/>
<line x1="437.03" y1="399.7" x2="437.03" y2="387.2" stroke="#000" stroke-width="2" stroke-linecap="butt"/>
<line x1="427.83" y1="387.2" x2="446.23" y2="387.2" stroke="#000" stroke-width="2" stroke-linecap="butt"/>
<rect x="420.83" y="466.2" width="32.4" height="109.3" fill="url(#dots)"/>
<path d="M420.83 575.5V466.2M453.23 466.2V575.5" fill="none" stroke="#000" stroke-width="2.1"/>
<rect x="420.83" y="399.7" width="32.4" height="51.5" fill="url(#dots)"/>
<path d="M420.83 451.2V399.7H453.23V451.2" fill="none" stroke="#000" stroke-width="2.1" stroke-linejoin="round"/>
<line x1="486.6" y1="356" x2="486.6" y2="354.8" stroke="#000" stroke-width="2" stroke-linecap="butt"/>
<line x1="477.4" y1="354.8" x2="495.8" y2="354.8" stroke="#000" stroke-width="2" stroke-linecap="butt"/>
<rect x="470.4" y="466.2" width="32.4" height="109.3" fill="url(#hlines)"/>
<path d="M470.4 575.5V466.2M502.8 466.2V575.5" fill="none" stroke="#000" stroke-width="2.1"/>
<rect x="470.4" y="356" width="32.4" height="95.2" fill="url(#hlines)"/>
<path d="M470.4 451.2V356H502.8V451.2" fill="none" stroke="#000" stroke-width="2.1" stroke-linejoin="round"/>
<line x1="115.2" y1="340.8" x2="115.2" y2="450.3" stroke="#000" stroke-width="2.3" stroke-linecap="butt"/>
<line x1="115.2" y1="468.2" x2="115.2" y2="575.5" stroke="#000" stroke-width="2.3" stroke-linecap="butt"/>
<line x1="107.3" y1="341.9" x2="115.2" y2="341.9" stroke="#000" stroke-width="2.3" stroke-linecap="butt"/>
<text x="105.1" y="350.6" font-size="16.85" font-weight="bold" text-anchor="end" textLength="19.87" lengthAdjust="spacingAndGlyphs">10</text>
<line x1="107.3" y1="368.4" x2="115.2" y2="368.4" stroke="#000" stroke-width="2.3" stroke-linecap="butt"/>
<text x="105.1" y="374.9" font-size="16.85" font-weight="bold" text-anchor="end" textLength="9.93" lengthAdjust="spacingAndGlyphs">8</text>
<line x1="107.3" y1="396.4" x2="115.2" y2="396.4" stroke="#000" stroke-width="2.3" stroke-linecap="butt"/>
<text x="105.1" y="402.9" font-size="16.85" font-weight="bold" text-anchor="end" textLength="9.93" lengthAdjust="spacingAndGlyphs">6</text>
<line x1="107.3" y1="423.4" x2="115.2" y2="423.4" stroke="#000" stroke-width="2.3" stroke-linecap="butt"/>
<text x="105.1" y="429.9" font-size="16.85" font-weight="bold" text-anchor="end" textLength="9.93" lengthAdjust="spacingAndGlyphs">4</text>
<line x1="107.3" y1="450.3" x2="115.2" y2="450.3" stroke="#000" stroke-width="2.3" stroke-linecap="butt"/>
<text x="105.1" y="456.8" font-size="16.85" font-weight="bold" text-anchor="end" textLength="9.93" lengthAdjust="spacingAndGlyphs">2</text>
<line x1="107.3" y1="468.2" x2="115.2" y2="468.2" stroke="#000" stroke-width="2.3" stroke-linecap="butt"/>
<text x="105.1" y="474.7" font-size="16.85" font-weight="bold" text-anchor="end" textLength="25.1" lengthAdjust="spacingAndGlyphs">2.0</text>
<line x1="107.3" y1="494.8" x2="115.2" y2="494.8" stroke="#000" stroke-width="2.3" stroke-linecap="butt"/>
<text x="105.1" y="501.3" font-size="16.85" font-weight="bold" text-anchor="end" textLength="25.1" lengthAdjust="spacingAndGlyphs">1.5</text>
<line x1="107.3" y1="521.8" x2="115.2" y2="521.8" stroke="#000" stroke-width="2.3" stroke-linecap="butt"/>
<text x="105.1" y="528.3" font-size="16.85" font-weight="bold" text-anchor="end" textLength="25.1" lengthAdjust="spacingAndGlyphs">1.0</text>
<line x1="107.3" y1="548.4" x2="115.2" y2="548.4" stroke="#000" stroke-width="2.3" stroke-linecap="butt"/>
<text x="105.1" y="554.9" font-size="16.85" font-weight="bold" text-anchor="end" textLength="25.1" lengthAdjust="spacingAndGlyphs">0.5</text>
<line x1="107.3" y1="575.5" x2="115.2" y2="575.5" stroke="#000" stroke-width="2.3" stroke-linecap="butt"/>
<text x="105.1" y="582" font-size="16.85" font-weight="bold" text-anchor="end" textLength="25.1" lengthAdjust="spacingAndGlyphs">0.0</text>
<line x1="115.2" y1="450.3" x2="120.7" y2="450.3" stroke="#000" stroke-width="2.3" stroke-linecap="butt"/>
<line x1="115.2" y1="468.2" x2="120.7" y2="468.2" stroke="#000" stroke-width="2.3" stroke-linecap="butt"/>
<line x1="107.3" y1="575.5" x2="514.8" y2="575.5" stroke="#000" stroke-width="2.3" stroke-linecap="butt"/>
<line x1="139.6" y1="575.5" x2="139.6" y2="583.4" stroke="#000" stroke-width="2.3" stroke-linecap="butt"/>
<line x1="189.17" y1="575.5" x2="189.17" y2="583.4" stroke="#000" stroke-width="2.3" stroke-linecap="butt"/>
<line x1="238.74" y1="575.5" x2="238.74" y2="583.4" stroke="#000" stroke-width="2.3" stroke-linecap="butt"/>
<line x1="288.31" y1="575.5" x2="288.31" y2="583.4" stroke="#000" stroke-width="2.3" stroke-linecap="butt"/>
<line x1="337.89" y1="575.5" x2="337.89" y2="583.4" stroke="#000" stroke-width="2.3" stroke-linecap="butt"/>
<line x1="387.46" y1="575.5" x2="387.46" y2="583.4" stroke="#000" stroke-width="2.3" stroke-linecap="butt"/>
<line x1="437.03" y1="575.5" x2="437.03" y2="583.4" stroke="#000" stroke-width="2.3" stroke-linecap="butt"/>
<line x1="486.6" y1="575.5" x2="486.6" y2="583.4" stroke="#000" stroke-width="2.3" stroke-linecap="butt"/>
<text x="54.6" y="459" font-size="16.87" font-weight="bold" text-anchor="middle" transform="rotate(-90 54.6 459)" textLength="163.02" lengthAdjust="spacingAndGlyphs">Relative fold change</text>
<text x="-1.4" y="312.7" font-size="27.8" font-weight="normal" text-anchor="start" letter-spacing="0.5">(E)</text>
<text x="289.1" y="409.7" font-size="21" font-weight="normal" text-anchor="middle" fill="#111">*</text>
<text x="339.5" y="401.3" font-size="16.5" font-weight="normal" text-anchor="middle" fill="#222">#</text>
<text x="436.9" y="380.1" font-size="16.5" font-weight="normal" text-anchor="middle" fill="#222">#</text>
<text x="487.3" y="349.9" font-size="21" font-weight="normal" text-anchor="middle" fill="#111">*</text>
<text x="146.8" y="602.1" font-size="16.69" font-weight="bold" text-anchor="end" transform="rotate(-45 146.8 602.1)" textLength="59.2" lengthAdjust="spacingAndGlyphs">Control</text>
<text x="196.37" y="602.1" font-size="16.69" font-weight="bold" text-anchor="end" transform="rotate(-45 196.37 602.1)" textLength="30.41" lengthAdjust="spacingAndGlyphs">DSS</text>
<text x="245.94" y="602.1" font-size="16.69" font-weight="bold" text-anchor="end" transform="rotate(-45 245.94 602.1)" textLength="68.31" lengthAdjust="spacingAndGlyphs">10 + DSS</text>
<text x="295.51" y="602.1" font-size="16.69" font-weight="bold" text-anchor="end" transform="rotate(-45 295.51 602.1)" textLength="68.04" lengthAdjust="spacingAndGlyphs">10 perse</text>
<text x="345.09" y="602.1" font-size="16.69" font-weight="bold" text-anchor="end" transform="rotate(-45 345.09 602.1)" textLength="68.31" lengthAdjust="spacingAndGlyphs">11 + DSS</text>
<text x="394.66" y="602.1" font-size="16.69" font-weight="bold" text-anchor="end" transform="rotate(-45 394.66 602.1)" textLength="68.04" lengthAdjust="spacingAndGlyphs">11 perse</text>
<text x="444.23" y="602.1" font-size="16.69" font-weight="bold" text-anchor="end" transform="rotate(-45 444.23 602.1)" textLength="68.31" lengthAdjust="spacingAndGlyphs">16 + DSS</text>
<text x="493.8" y="602.1" font-size="16.69" font-weight="bold" text-anchor="end" transform="rotate(-45 493.8 602.1)" textLength="68.04" lengthAdjust="spacingAndGlyphs">16 perse</text>
</g>
<g>
<line x1="645.8" y1="491.6" x2="645.8" y2="479.1" stroke="#000" stroke-width="2" stroke-linecap="butt"/>
<line x1="637.1" y1="479.1" x2="654.5" y2="479.1" stroke="#000" stroke-width="2" stroke-linecap="butt"/>
<rect x="629.2" y="491.6" width="33.2" height="83.9" fill="url(#dots)"/>
<path d="M629.2 575.5V491.6H662.4V575.5" fill="none" stroke="#000" stroke-width="2.1" stroke-linejoin="round"/>
<line x1="694.83" y1="357.3" x2="694.83" y2="332.9" stroke="#000" stroke-width="2" stroke-linecap="butt"/>
<line x1="686.13" y1="332.9" x2="703.53" y2="332.9" stroke="#000" stroke-width="2" stroke-linecap="butt"/>
<rect x="678.23" y="357.3" width="33.2" height="218.2" fill="url(#dots)"/>
<path d="M678.23 575.5V357.3H711.43V575.5" fill="none" stroke="#000" stroke-width="2.1" stroke-linejoin="round"/>
<line x1="743.86" y1="458.7" x2="743.86" y2="445.5" stroke="#000" stroke-width="2" stroke-linecap="butt"/>
<line x1="735.16" y1="445.5" x2="752.56" y2="445.5" stroke="#000" stroke-width="2" stroke-linecap="butt"/>
<rect x="727.26" y="458.7" width="33.2" height="116.8" fill="url(#dots)"/>
<path d="M727.26 575.5V458.7H760.46V575.5" fill="none" stroke="#000" stroke-width="2.1" stroke-linejoin="round"/>
<line x1="792.89" y1="472.4" x2="792.89" y2="466.7" stroke="#000" stroke-width="2" stroke-linecap="butt"/>
<line x1="784.19" y1="466.7" x2="801.59" y2="466.7" stroke="#000" stroke-width="2" stroke-linecap="butt"/>
<rect x="776.29" y="472.4" width="33.2" height="103.1" fill="url(#dots)"/>
<path d="M776.29 575.5V472.4H809.49V575.5" fill="none" stroke="#000" stroke-width="2.1" stroke-linejoin="round"/>
<line x1="841.91" y1="471.2" x2="841.91" y2="459.9" stroke="#000" stroke-width="2" stroke-linecap="butt"/>
<line x1="833.21" y1="459.9" x2="850.61" y2="459.9" stroke="#000" stroke-width="2" stroke-linecap="butt"/>
<rect x="825.31" y="471.2" width="33.2" height="104.3" fill="url(#dots)"/>
<path d="M825.31 575.5V471.2H858.51V575.5" fill="none" stroke="#000" stroke-width="2.1" stroke-linejoin="round"/>
<line x1="890.94" y1="494.8" x2="890.94" y2="484.9" stroke="#000" stroke-width="2" stroke-linecap="butt"/>
<line x1="882.24" y1="484.9" x2="899.64" y2="484.9" stroke="#000" stroke-width="2" stroke-linecap="butt"/>
<rect x="874.34" y="494.8" width="33.2" height="80.7" fill="url(#dots)"/>
<path d="M874.34 575.5V494.8H907.54V575.5" fill="none" stroke="#000" stroke-width="2.1" stroke-linejoin="round"/>
<line x1="939.97" y1="426.3" x2="939.97" y2="415.4" stroke="#000" stroke-width="2" stroke-linecap="butt"/>
<line x1="931.27" y1="415.4" x2="948.67" y2="415.4" stroke="#000" stroke-width="2" stroke-linecap="butt"/>
<rect x="923.37" y="426.3" width="33.2" height="149.2" fill="url(#dots)"/>
<path d="M923.37 575.5V426.3H956.57V575.5" fill="none" stroke="#000" stroke-width="2.1" stroke-linejoin="round"/>
<line x1="989" y1="492.8" x2="989" y2="478.1" stroke="#000" stroke-width="2" stroke-linecap="butt"/>
<line x1="980.3" y1="478.1" x2="997.7" y2="478.1" stroke="#000" stroke-width="2" stroke-linecap="butt"/>
<rect x="972.4" y="492.8" width="33.2" height="82.7" fill="url(#hlines)"/>
<path d="M972.4 575.5V492.8H1005.6V575.5" fill="none" stroke="#000" stroke-width="2.1" stroke-linejoin="round"/>
<line x1="621.4" y1="314.9" x2="621.4" y2="575.5" stroke="#000" stroke-width="2.3" stroke-linecap="butt"/>
<line x1="613.5" y1="332.9" x2="621.4" y2="332.9" stroke="#000" stroke-width="2.3" stroke-linecap="butt"/>
<text x="610.1" y="340.9" font-size="19.94" font-weight="bold" text-anchor="end" textLength="45.41" lengthAdjust="spacingAndGlyphs">1400</text>
<line x1="613.5" y1="367.3" x2="621.4" y2="367.3" stroke="#000" stroke-width="2.3" stroke-linecap="butt"/>
<text x="610.1" y="375.3" font-size="19.94" font-weight="bold" text-anchor="end" textLength="45.41" lengthAdjust="spacingAndGlyphs">1200</text>
<line x1="613.5" y1="402.2" x2="621.4" y2="402.2" stroke="#000" stroke-width="2.3" stroke-linecap="butt"/>
<text x="610.1" y="410.2" font-size="19.94" font-weight="bold" text-anchor="end" textLength="45.41" lengthAdjust="spacingAndGlyphs">1000</text>
<line x1="613.5" y1="436.6" x2="621.4" y2="436.6" stroke="#000" stroke-width="2.3" stroke-linecap="butt"/>
<text x="610.1" y="444.6" font-size="19.94" font-weight="bold" text-anchor="end" textLength="34.06" lengthAdjust="spacingAndGlyphs">800</text>
<line x1="613.5" y1="471.7" x2="621.4" y2="471.7" stroke="#000" stroke-width="2.3" stroke-linecap="butt"/>
<text x="610.1" y="479.7" font-size="19.94" font-weight="bold" text-anchor="end" textLength="34.06" lengthAdjust="spacingAndGlyphs">600</text>
<line x1="613.5" y1="506" x2="621.4" y2="506" stroke="#000" stroke-width="2.3" stroke-linecap="butt"/>
<text x="610.1" y="514" font-size="19.94" font-weight="bold" text-anchor="end" textLength="34.06" lengthAdjust="spacingAndGlyphs">400</text>
<line x1="613.5" y1="540.9" x2="621.4" y2="540.9" stroke="#000" stroke-width="2.3" stroke-linecap="butt"/>
<text x="610.1" y="548.9" font-size="19.94" font-weight="bold" text-anchor="end" textLength="34.06" lengthAdjust="spacingAndGlyphs">200</text>
<line x1="613.5" y1="575.5" x2="621.4" y2="575.5" stroke="#000" stroke-width="2.3" stroke-linecap="butt"/>
<text x="610.1" y="583.5" font-size="19.94" font-weight="bold" text-anchor="end" textLength="11.35" lengthAdjust="spacingAndGlyphs">0</text>
<line x1="613.5" y1="575.5" x2="1014.5" y2="575.5" stroke="#000" stroke-width="2.3" stroke-linecap="butt"/>
<line x1="645.8" y1="575.5" x2="645.8" y2="583.4" stroke="#000" stroke-width="2.3" stroke-linecap="butt"/>
<line x1="694.83" y1="575.5" x2="694.83" y2="583.4" stroke="#000" stroke-width="2.3" stroke-linecap="butt"/>
<line x1="743.86" y1="575.5" x2="743.86" y2="583.4" stroke="#000" stroke-width="2.3" stroke-linecap="butt"/>
<line x1="792.89" y1="575.5" x2="792.89" y2="583.4" stroke="#000" stroke-width="2.3" stroke-linecap="butt"/>
<line x1="841.91" y1="575.5" x2="841.91" y2="583.4" stroke="#000" stroke-width="2.3" stroke-linecap="butt"/>
<line x1="890.94" y1="575.5" x2="890.94" y2="583.4" stroke="#000" stroke-width="2.3" stroke-linecap="butt"/>
<line x1="939.97" y1="575.5" x2="939.97" y2="583.4" stroke="#000" stroke-width="2.3" stroke-linecap="butt"/>
<line x1="989" y1="575.5" x2="989" y2="583.4" stroke="#000" stroke-width="2.3" stroke-linecap="butt"/>
<text x="549.7" y="446.4" font-size="18.34" font-weight="bold" text-anchor="middle" transform="rotate(-90 549.7 446.4)" textLength="119.32" lengthAdjust="spacingAndGlyphs">Conc (pg/mg)</text>
<text x="522.3" y="309.3" font-size="27.8" font-weight="normal" text-anchor="start" letter-spacing="0.5">(F)</text>
<text x="694.4" y="327.9" font-size="21" font-weight="normal" text-anchor="middle" fill="#111">*</text>
<text x="743" y="435" font-size="16.5" font-weight="normal" text-anchor="middle" fill="#222">#</text>
<text x="841" y="451.9" font-size="16.5" font-weight="normal" text-anchor="middle" fill="#222">#</text>
<text x="939.2" y="407.6" font-size="16.5" font-weight="normal" text-anchor="middle" fill="#222">#</text>
<text x="653.6" y="603.9" font-size="19.03" font-weight="bold" text-anchor="end" transform="rotate(-45 653.6 603.9)" textLength="67.48" lengthAdjust="spacingAndGlyphs">Control</text>
<text x="702.63" y="603.9" font-size="19.03" font-weight="bold" text-anchor="end" transform="rotate(-45 702.63 603.9)" textLength="34.67" lengthAdjust="spacingAndGlyphs">DSS</text>
<text x="751.66" y="603.9" font-size="19.03" font-weight="bold" text-anchor="end" transform="rotate(-45 751.66 603.9)" textLength="77.87" lengthAdjust="spacingAndGlyphs">10 + DSS</text>
<text x="800.69" y="603.9" font-size="19.03" font-weight="bold" text-anchor="end" transform="rotate(-45 800.69 603.9)" textLength="77.56" lengthAdjust="spacingAndGlyphs">10 perse</text>
<text x="849.71" y="603.9" font-size="19.03" font-weight="bold" text-anchor="end" transform="rotate(-45 849.71 603.9)" textLength="77.87" lengthAdjust="spacingAndGlyphs">11 + DSS</text>
<text x="898.74" y="603.9" font-size="19.03" font-weight="bold" text-anchor="end" transform="rotate(-45 898.74 603.9)" textLength="77.56" lengthAdjust="spacingAndGlyphs">11 perse</text>
<text x="947.77" y="603.9" font-size="19.03" font-weight="bold" text-anchor="end" transform="rotate(-45 947.77 603.9)" textLength="77.87" lengthAdjust="spacingAndGlyphs">16 + DSS</text>
<text x="996.8" y="603.9" font-size="19.03" font-weight="bold" text-anchor="end" transform="rotate(-45 996.8 603.9)" textLength="77.56" lengthAdjust="spacingAndGlyphs">16 perse</text>
</g>
<g>
<line x1="1148.7" y1="479.1" x2="1148.7" y2="469.4" stroke="#000" stroke-width="2" stroke-linecap="butt"/>
<line x1="1139.7" y1="469.4" x2="1157.7" y2="469.4" stroke="#000" stroke-width="2" stroke-linecap="butt"/>
<rect x="1133.3" y="479.1" width="30.8" height="96.4" fill="url(#dots)"/>
<path d="M1133.3 575.5V479.1H1164.1V575.5" fill="none" stroke="#000" stroke-width="2.1" stroke-linejoin="round"/>
<line x1="1195.6" y1="364" x2="1195.6" y2="341.6" stroke="#000" stroke-width="2" stroke-linecap="butt"/>
<line x1="1186.6" y1="341.6" x2="1204.6" y2="341.6" stroke="#000" stroke-width="2" stroke-linecap="butt"/>
<rect x="1180.2" y="364" width="30.8" height="211.5" fill="url(#dots)"/>
<path d="M1180.2 575.5V364H1211V575.5" fill="none" stroke="#000" stroke-width="2.1" stroke-linejoin="round"/>
<line x1="1242.5" y1="448.8" x2="1242.5" y2="433.3" stroke="#000" stroke-width="2" stroke-linecap="butt"/>
<line x1="1233.5" y1="433.3" x2="1251.5" y2="433.3" stroke="#000" stroke-width="2" stroke-linecap="butt"/>
<rect x="1227.1" y="448.8" width="30.8" height="126.7" fill="url(#dots)"/>
<path d="M1227.1 575.5V448.8H1257.9V575.5" fill="none" stroke="#000" stroke-width="2.1" stroke-linejoin="round"/>
<line x1="1289.4" y1="437.1" x2="1289.4" y2="419.6" stroke="#000" stroke-width="2" stroke-linecap="butt"/>
<line x1="1280.4" y1="419.6" x2="1298.4" y2="419.6" stroke="#000" stroke-width="2" stroke-linecap="butt"/>
<rect x="1274" y="437.1" width="30.8" height="138.4" fill="url(#dots)"/>
<path d="M1274 575.5V437.1H1304.8V575.5" fill="none" stroke="#000" stroke-width="2.1" stroke-linejoin="round"/>
<line x1="1336.3" y1="414.1" x2="1336.3" y2="404.2" stroke="#000" stroke-width="2" stroke-linecap="butt"/>
<line x1="1327.3" y1="404.2" x2="1345.3" y2="404.2" stroke="#000" stroke-width="2" stroke-linecap="butt"/>
<rect x="1320.9" y="414.1" width="30.8" height="161.4" fill="url(#dots)"/>
<path d="M1320.9 575.5V414.1H1351.7V575.5" fill="none" stroke="#000" stroke-width="2.1" stroke-linejoin="round"/>
<line x1="1383.2" y1="465.4" x2="1383.2" y2="452" stroke="#000" stroke-width="2" stroke-linecap="butt"/>
<line x1="1374.2" y1="452" x2="1392.2" y2="452" stroke="#000" stroke-width="2" stroke-linecap="butt"/>
<rect x="1367.8" y="465.4" width="30.8" height="110.1" fill="url(#dots)"/>
<path d="M1367.8 575.5V465.4H1398.6V575.5" fill="none" stroke="#000" stroke-width="2.1" stroke-linejoin="round"/>
<line x1="1430.1" y1="406.4" x2="1430.1" y2="390.9" stroke="#000" stroke-width="2" stroke-linecap="butt"/>
<line x1="1421.1" y1="390.9" x2="1439.1" y2="390.9" stroke="#000" stroke-width="2" stroke-linecap="butt"/>
<rect x="1414.7" y="406.4" width="30.8" height="169.1" fill="url(#dots)"/>
<path d="M1414.7 575.5V406.4H1445.5V575.5" fill="none" stroke="#000" stroke-width="2.1" stroke-linejoin="round"/>
<line x1="1477" y1="510.3" x2="1477" y2="491.6" stroke="#000" stroke-width="2" stroke-linecap="butt"/>
<line x1="1468" y1="491.6" x2="1486" y2="491.6" stroke="#000" stroke-width="2" stroke-linecap="butt"/>
<rect x="1461.6" y="510.3" width="30.8" height="65.2" fill="url(#hlines)"/>
<path d="M1461.6 575.5V510.3H1492.4V575.5" fill="none" stroke="#000" stroke-width="2.1" stroke-linejoin="round"/>
<line x1="1125.4" y1="326.1" x2="1125.4" y2="575.5" stroke="#000" stroke-width="2.3" stroke-linecap="butt"/>
<line x1="1117.5" y1="329.9" x2="1125.4" y2="329.9" stroke="#000" stroke-width="2.3" stroke-linecap="butt"/>
<text x="1114.4" y="335.5" font-size="18.26" font-weight="bold" text-anchor="end" textLength="32.54" lengthAdjust="spacingAndGlyphs">490</text>
<line x1="1117.5" y1="364.8" x2="1125.4" y2="364.8" stroke="#000" stroke-width="2.3" stroke-linecap="butt"/>
<text x="1114.4" y="370.4" font-size="18.26" font-weight="bold" text-anchor="end" textLength="32.54" lengthAdjust="spacingAndGlyphs">420</text>
<line x1="1117.5" y1="400.4" x2="1125.4" y2="400.4" stroke="#000" stroke-width="2.3" stroke-linecap="butt"/>
<text x="1114.4" y="406" font-size="18.26" font-weight="bold" text-anchor="end" textLength="32.54" lengthAdjust="spacingAndGlyphs">350</text>
<line x1="1117.5" y1="435.3" x2="1125.4" y2="435.3" stroke="#000" stroke-width="2.3" stroke-linecap="butt"/>
<text x="1114.4" y="440.9" font-size="18.26" font-weight="bold" text-anchor="end" textLength="32.54" lengthAdjust="spacingAndGlyphs">280</text>
<line x1="1117.5" y1="470.4" x2="1125.4" y2="470.4" stroke="#000" stroke-width="2.3" stroke-linecap="butt"/>
<text x="1114.4" y="476" font-size="18.26" font-weight="bold" text-anchor="end" textLength="32.54" lengthAdjust="spacingAndGlyphs">210</text>
<line x1="1117.5" y1="505.3" x2="1125.4" y2="505.3" stroke="#000" stroke-width="2.3" stroke-linecap="butt"/>
<text x="1114.4" y="510.9" font-size="18.26" font-weight="bold" text-anchor="end" textLength="32.54" lengthAdjust="spacingAndGlyphs">140</text>
<line x1="1117.5" y1="540.2" x2="1125.4" y2="540.2" stroke="#000" stroke-width="2.3" stroke-linecap="butt"/>
<text x="1114.4" y="545.8" font-size="18.26" font-weight="bold" text-anchor="end" textLength="21.69" lengthAdjust="spacingAndGlyphs">70</text>
<line x1="1117.5" y1="575.5" x2="1125.4" y2="575.5" stroke="#000" stroke-width="2.3" stroke-linecap="butt"/>
<text x="1114.4" y="581.1" font-size="18.26" font-weight="bold" text-anchor="end" textLength="10.85" lengthAdjust="spacingAndGlyphs">0</text>
<line x1="1117.8" y1="575.5" x2="1501.7" y2="575.5" stroke="#000" stroke-width="2.3" stroke-linecap="butt"/>
<line x1="1148.7" y1="575.5" x2="1148.7" y2="583.4" stroke="#000" stroke-width="2.3" stroke-linecap="butt"/>
<line x1="1195.6" y1="575.5" x2="1195.6" y2="583.4" stroke="#000" stroke-width="2.3" stroke-linecap="butt"/>
<line x1="1242.5" y1="575.5" x2="1242.5" y2="583.4" stroke="#000" stroke-width="2.3" stroke-linecap="butt"/>
<line x1="1289.4" y1="575.5" x2="1289.4" y2="583.4" stroke="#000" stroke-width="2.3" stroke-linecap="butt"/>
<line x1="1336.3" y1="575.5" x2="1336.3" y2="583.4" stroke="#000" stroke-width="2.3" stroke-linecap="butt"/>
<line x1="1383.2" y1="575.5" x2="1383.2" y2="583.4" stroke="#000" stroke-width="2.3" stroke-linecap="butt"/>
<line x1="1430.1" y1="575.5" x2="1430.1" y2="583.4" stroke="#000" stroke-width="2.3" stroke-linecap="butt"/>
<line x1="1477" y1="575.5" x2="1477" y2="583.4" stroke="#000" stroke-width="2.3" stroke-linecap="butt"/>
<text x="1067.1" y="450" font-size="17.39" font-weight="bold" text-anchor="middle" transform="rotate(-90 1067.1 450)" textLength="113.13" lengthAdjust="spacingAndGlyphs">Conc (pg/mg)</text>
<text x="1031.1" y="315.5" font-size="27.8" font-weight="normal" text-anchor="start" letter-spacing="0.5">(G)</text>
<text x="1193.9" y="341.9" font-size="21" font-weight="normal" text-anchor="middle" fill="#111">*</text>
<text x="1241.3" y="425.5" font-size="16.5" font-weight="normal" text-anchor="middle" fill="#222">#</text>
<text x="1155.8" y="602.6" font-size="17.82" font-weight="bold" text-anchor="end" transform="rotate(-45 1155.8 602.6)" textLength="63.19" lengthAdjust="spacingAndGlyphs">Control</text>
<text x="1202.7" y="602.6" font-size="17.82" font-weight="bold" text-anchor="end" transform="rotate(-45 1202.7 602.6)" textLength="32.46" lengthAdjust="spacingAndGlyphs">DSS</text>
<text x="1249.6" y="602.6" font-size="17.82" font-weight="bold" text-anchor="end" transform="rotate(-45 1249.6 602.6)" textLength="100.7" lengthAdjust="spacingAndGlyphs">Bif 10 + DSS</text>
<text x="1296.5" y="602.6" font-size="17.82" font-weight="bold" text-anchor="end" transform="rotate(-45 1296.5 602.6)" textLength="100.41" lengthAdjust="spacingAndGlyphs">Bif 10 perse</text>
<text x="1343.4" y="602.6" font-size="17.82" font-weight="bold" text-anchor="end" transform="rotate(-45 1343.4 602.6)" textLength="100.7" lengthAdjust="spacingAndGlyphs">Bif 11 + DSS</text>
<text x="1390.3" y="602.6" font-size="17.82" font-weight="bold" text-anchor="end" transform="rotate(-45 1390.3 602.6)" textLength="100.41" lengthAdjust="spacingAndGlyphs">Bif 11 perse</text>
<text x="1437.2" y="602.6" font-size="17.82" font-weight="bold" text-anchor="end" transform="rotate(-45 1437.2 602.6)" textLength="100.7" lengthAdjust="spacingAndGlyphs">Bif 16 + DSS</text>
<text x="1484.1" y="602.6" font-size="17.82" font-weight="bold" text-anchor="end" transform="rotate(-45 1484.1 602.6)" textLength="100.41" lengthAdjust="spacingAndGlyphs">Bif 16 perse</text>
</g>
<g>
<line x1="1653.8" y1="488.1" x2="1653.8" y2="478.1" stroke="#000" stroke-width="2" stroke-linecap="butt"/>
<line x1="1645.1" y1="478.1" x2="1662.5" y2="478.1" stroke="#000" stroke-width="2" stroke-linecap="butt"/>
<rect x="1638.2" y="488.1" width="31.2" height="78.5" fill="url(#sparse)"/>
<path d="M1638.2 566.6V488.1H1669.4V566.6" fill="none" stroke="#000" stroke-width="2.1" stroke-linejoin="round"/>
<line x1="1700.86" y1="380.5" x2="1700.86" y2="346.1" stroke="#000" stroke-width="2" stroke-linecap="butt"/>
<line x1="1692.16" y1="346.1" x2="1709.56" y2="346.1" stroke="#000" stroke-width="2" stroke-linecap="butt"/>
<rect x="1685.26" y="380.5" width="31.2" height="186.1" fill="url(#sparse)"/>
<path d="M1685.26 566.6V380.5H1716.46V566.6" fill="none" stroke="#000" stroke-width="2.1" stroke-linejoin="round"/>
<line x1="1747.91" y1="478.1" x2="1747.91" y2="470.4" stroke="#000" stroke-width="2" stroke-linecap="butt"/>
<line x1="1739.21" y1="470.4" x2="1756.61" y2="470.4" stroke="#000" stroke-width="2" stroke-linecap="butt"/>
<rect x="1732.31" y="478.1" width="31.2" height="88.5" fill="url(#sparse)"/>
<path d="M1732.31 566.6V478.1H1763.51V566.6" fill="none" stroke="#000" stroke-width="2.1" stroke-linejoin="round"/>
<line x1="1794.97" y1="480.4" x2="1794.97" y2="463.7" stroke="#000" stroke-width="2" stroke-linecap="butt"/>
<line x1="1786.27" y1="463.7" x2="1803.67" y2="463.7" stroke="#000" stroke-width="2" stroke-linecap="butt"/>
<rect x="1779.37" y="480.4" width="31.2" height="86.2" fill="url(#sparse)"/>
<path d="M1779.37 566.6V480.4H1810.57V566.6" fill="none" stroke="#000" stroke-width="2.1" stroke-linejoin="round"/>
<line x1="1842.03" y1="479.1" x2="1842.03" y2="462.4" stroke="#000" stroke-width="2" stroke-linecap="butt"/>
<line x1="1833.33" y1="462.4" x2="1850.73" y2="462.4" stroke="#000" stroke-width="2" stroke-linecap="butt"/>
<rect x="1826.43" y="479.1" width="31.2" height="87.5" fill="url(#sparse)"/>
<path d="M1826.43 566.6V479.1H1857.63V566.6" fill="none" stroke="#000" stroke-width="2.1" stroke-linejoin="round"/>
<line x1="1889.09" y1="476.9" x2="1889.09" y2="465.4" stroke="#000" stroke-width="2" stroke-linecap="butt"/>
<line x1="1880.39" y1="465.4" x2="1897.79" y2="465.4" stroke="#000" stroke-width="2" stroke-linecap="butt"/>
<rect x="1873.49" y="476.9" width="31.2" height="89.7" fill="url(#sparse)"/>
<path d="M1873.49 566.6V476.9H1904.69V566.6" fill="none" stroke="#000" stroke-width="2.1" stroke-linejoin="round"/>
<line x1="1936.14" y1="481.6" x2="1936.14" y2="443.2" stroke="#000" stroke-width="2" stroke-linecap="butt"/>
<line x1="1927.44" y1="443.2" x2="1944.84" y2="443.2" stroke="#000" stroke-width="2" stroke-linecap="butt"/>
<rect x="1920.54" y="481.6" width="31.2" height="85" fill="url(#sparse)"/>
<path d="M1920.54 566.6V481.6H1951.74V566.6" fill="none" stroke="#000" stroke-width="2.1" stroke-linejoin="round"/>
<line x1="1983.2" y1="474.9" x2="1983.2" y2="457.9" stroke="#000" stroke-width="2" stroke-linecap="butt"/>
<line x1="1974.5" y1="457.9" x2="1991.9" y2="457.9" stroke="#000" stroke-width="2" stroke-linecap="butt"/>
<rect x="1967.6" y="474.9" width="31.2" height="91.7" fill="url(#hlines)"/>
<path d="M1967.6 566.6V474.9H1998.8V566.6" fill="none" stroke="#000" stroke-width="2.1" stroke-linejoin="round"/>
<line x1="1630.5" y1="316.2" x2="1630.5" y2="566.6" stroke="#000" stroke-width="2.3" stroke-linecap="butt"/>
<line x1="1622.6" y1="334.1" x2="1630.5" y2="334.1" stroke="#000" stroke-width="2.3" stroke-linecap="butt"/>
<text x="1619.8" y="340.9" font-size="18.12" font-weight="bold" text-anchor="end" textLength="32.24" lengthAdjust="spacingAndGlyphs">400</text>
<line x1="1622.6" y1="363.2" x2="1630.5" y2="363.2" stroke="#000" stroke-width="2.3" stroke-linecap="butt"/>
<text x="1619.8" y="370" font-size="18.12" font-weight="bold" text-anchor="end" textLength="32.24" lengthAdjust="spacingAndGlyphs">350</text>
<line x1="1622.6" y1="392.3" x2="1630.5" y2="392.3" stroke="#000" stroke-width="2.3" stroke-linecap="butt"/>
<text x="1619.8" y="399.1" font-size="18.12" font-weight="bold" text-anchor="end" textLength="32.24" lengthAdjust="spacingAndGlyphs">300</text>
<line x1="1622.6" y1="421.4" x2="1630.5" y2="421.4" stroke="#000" stroke-width="2.3" stroke-linecap="butt"/>
<text x="1619.8" y="428.2" font-size="18.12" font-weight="bold" text-anchor="end" textLength="32.24" lengthAdjust="spacingAndGlyphs">250</text>
<line x1="1622.6" y1="450.5" x2="1630.5" y2="450.5" stroke="#000" stroke-width="2.3" stroke-linecap="butt"/>
<text x="1619.8" y="457.3" font-size="18.12" font-weight="bold" text-anchor="end" textLength="32.24" lengthAdjust="spacingAndGlyphs">200</text>
<line x1="1622.6" y1="479.6" x2="1630.5" y2="479.6" stroke="#000" stroke-width="2.3" stroke-linecap="butt"/>
<text x="1619.8" y="486.4" font-size="18.12" font-weight="bold" text-anchor="end" textLength="32.24" lengthAdjust="spacingAndGlyphs">150</text>
<line x1="1622.6" y1="508.7" x2="1630.5" y2="508.7" stroke="#000" stroke-width="2.3" stroke-linecap="butt"/>
<text x="1619.8" y="515.5" font-size="18.12" font-weight="bold" text-anchor="end" textLength="32.24" lengthAdjust="spacingAndGlyphs">100</text>
<line x1="1622.6" y1="537.7" x2="1630.5" y2="537.7" stroke="#000" stroke-width="2.3" stroke-linecap="butt"/>
<text x="1619.8" y="544.5" font-size="18.12" font-weight="bold" text-anchor="end" textLength="21.49" lengthAdjust="spacingAndGlyphs">50</text>
<line x1="1622.6" y1="566.6" x2="1630.5" y2="566.6" stroke="#000" stroke-width="2.3" stroke-linecap="butt"/>
<text x="1619.8" y="573.4" font-size="18.12" font-weight="bold" text-anchor="end" textLength="10.75" lengthAdjust="spacingAndGlyphs">0</text>
<line x1="1622" y1="566.6" x2="2007" y2="566.6" stroke="#000" stroke-width="2.3" stroke-linecap="butt"/>
<line x1="1653.8" y1="566.6" x2="1653.8" y2="574.5" stroke="#000" stroke-width="2.3" stroke-linecap="butt"/>
<line x1="1700.86" y1="566.6" x2="1700.86" y2="574.5" stroke="#000" stroke-width="2.3" stroke-linecap="butt"/>
<line x1="1747.91" y1="566.6" x2="1747.91" y2="574.5" stroke="#000" stroke-width="2.3" stroke-linecap="butt"/>
<line x1="1794.97" y1="566.6" x2="1794.97" y2="574.5" stroke="#000" stroke-width="2.3" stroke-linecap="butt"/>
<line x1="1842.03" y1="566.6" x2="1842.03" y2="574.5" stroke="#000" stroke-width="2.3" stroke-linecap="butt"/>
<line x1="1889.09" y1="566.6" x2="1889.09" y2="574.5" stroke="#000" stroke-width="2.3" stroke-linecap="butt"/>
<line x1="1936.14" y1="566.6" x2="1936.14" y2="574.5" stroke="#000" stroke-width="2.3" stroke-linecap="butt"/>
<line x1="1983.2" y1="566.6" x2="1983.2" y2="574.5" stroke="#000" stroke-width="2.3" stroke-linecap="butt"/>
<text x="1572" y="441.3" font-size="17.43" font-weight="bold" text-anchor="middle" transform="rotate(-90 1572 441.3)" textLength="113.41" lengthAdjust="spacingAndGlyphs">Conc (pg/mg)</text>
<text x="1511.4" y="322.7" font-size="27.8" font-weight="normal" text-anchor="start" letter-spacing="0.5">(H)</text>
<text x="1699.7" y="343.6" font-size="21" font-weight="normal" text-anchor="middle" fill="#111">*</text>
<text x="1746.3" y="462.3" font-size="16.5" font-weight="normal" text-anchor="middle" fill="#222">#</text>
<text x="1841.5" y="457.9" font-size="16.5" font-weight="normal" text-anchor="middle" fill="#222">#</text>
<text x="1935.2" y="438.7" font-size="16.5" font-weight="normal" text-anchor="middle" fill="#222">#</text>
<text x="1660.9" y="594.1" font-size="17.91" font-weight="bold" text-anchor="end" transform="rotate(-45 1660.9 594.1)" textLength="63.49" lengthAdjust="spacingAndGlyphs">Control</text>
<text x="1707.96" y="594.1" font-size="17.91" font-weight="bold" text-anchor="end" transform="rotate(-45 1707.96 594.1)" textLength="32.62" lengthAdjust="spacingAndGlyphs">DSS</text>
<text x="1755.01" y="594.1" font-size="17.91" font-weight="bold" text-anchor="end" transform="rotate(-45 1755.01 594.1)" textLength="68.59" lengthAdjust="spacingAndGlyphs">10+ DSS</text>
<text x="1802.07" y="594.1" font-size="17.91" font-weight="bold" text-anchor="end" transform="rotate(-45 1802.07 594.1)" textLength="72.98" lengthAdjust="spacingAndGlyphs">10 perse</text>
<text x="1849.13" y="594.1" font-size="17.91" font-weight="bold" text-anchor="end" transform="rotate(-45 1849.13 594.1)" textLength="73.27" lengthAdjust="spacingAndGlyphs">11 + DSS</text>
<text x="1896.19" y="594.1" font-size="17.91" font-weight="bold" text-anchor="end" transform="rotate(-45 1896.19 594.1)" textLength="72.98" lengthAdjust="spacingAndGlyphs">11 perse</text>
<text x="1943.24" y="594.1" font-size="17.91" font-weight="bold" text-anchor="end" transform="rotate(-45 1943.24 594.1)" textLength="73.27" lengthAdjust="spacingAndGlyphs">16 + DSS</text>
<text x="1990.3" y="594.1" font-size="17.91" font-weight="bold" text-anchor="end" transform="rotate(-45 1990.3 594.1)" textLength="72.98" lengthAdjust="spacingAndGlyphs">16 perse</text>
</g>
</svg>
</body>
</html>
